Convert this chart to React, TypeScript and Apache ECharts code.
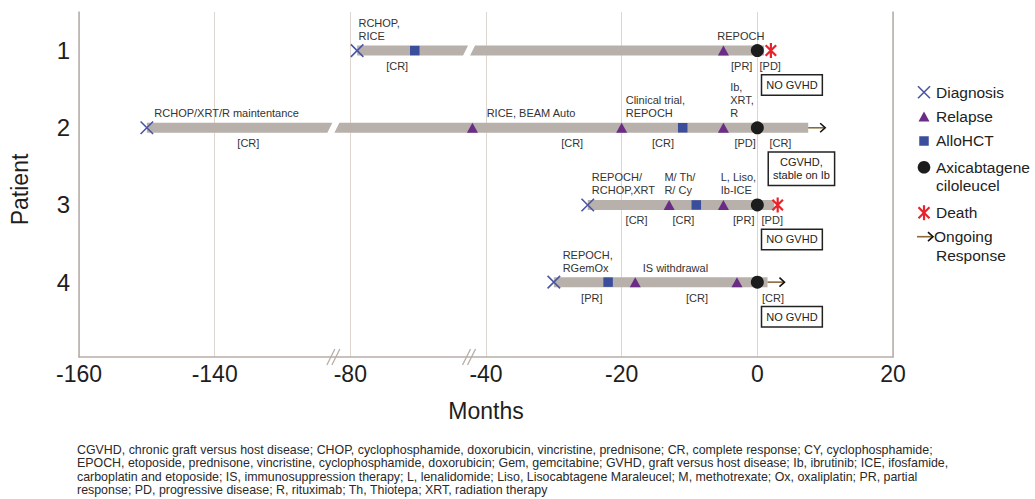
import React, { useEffect, useRef } from "react";
import * as echarts from "echarts";

// ---- axis definition (broken month axis, equally spaced ticks) ----
const tickMonths = [-160, -140, -80, -40, -20, 0, 20];
const tickLabels = ["-160", "-140", "-80", "-40", "-20", "0", "20"];
const axisBreakMonths = [-87.5, -45];
const patients = [1, 2, 3, 4];

// ---- bars (months) ----
const barStart = [-78, -150, -25, -30];
const barEnd = [1, 7.5, 2.5, 1.5];
const barBreak: (number | null)[] = [-45, -87.5, null, null];

// ---- events: [month, patient] ----
const diagnosis = [[-78, 1], [-150, 2], [-25, 3], [-30, 4]];
const relapse = [[-5, 1], [-44, 2], [-20, 2], [-5, 2], [-13, 3], [-5, 3], [-18, 4], [-3, 4]];
const alloHCT = [[-61, 1], [-11, 2], [-9, 3], [-22, 4]];
const axicel = [[0, 1], [0, 2], [0, 3], [0, 4]];
const death = [[2, 1], [3, 3]];
// [start month, tip month, patient]
const ongoing = [[7.5, 10, 2], [1.5, 4, 4]];

// ---- annotations: [month, patient, text] ----
const treatmentLabels: [number, number, string][] = [
  [-77.6, 1, "RCHOP,\nRICE"],
  [-5.9, 1, "REPOCH"],
  [-148.9, 2, "RCHOP/XRT/R maintentance"],
  [-39.9, 2, "RICE, BEAM Auto"],
  [-19.4, 2, "Clinical trial,\nREPOCH"],
  [-4.0, 2, "Ib,\nXRT,\nR"],
  [-24.4, 3, "REPOCH/\nRCHOP,XRT"],
  [-13.7, 3, "M/ Th/\nR/ Cy"],
  [-5.4, 3, "L, Liso,\nIb-ICE"],
  [-28.7, 4, "REPOCH,\nRGemOx"],
  [-16.9, 4, "IS withdrawal"],
];
const responseLabels: [number, number, string][] = [
  [-66.2, 1, "[CR]"], [-2.3, 1, "[PR]"], [1.9, 1, "[PD]"],
  [-125.1, 2, "[CR]"], [-27.3, 2, "[CR]"], [-13.9, 2, "[CR]"], [-1.8, 2, "[PD]"], [3.4, 2, "[CR]"],
  [-17.8, 3, "[CR]"], [-10.9, 3, "[CR]"], [-2.0, 3, "[PR]"], [2.2, 3, "[PD]"],
  [-24.4, 4, "[PR]"], [-8.9, 4, "[CR]"], [2.3, 4, "[CR]"],
];
const gvhdNotes: [number, number, string][] = [
  [5.1, 1, "NO GVHD"],
  [6.5, 2, "CGVHD,\nstable on Ib"],
  [5.1, 3, "NO GVHD"],
  [5.1, 4, "NO GVHD"],
];

const footnoteLines = [
  "CGVHD, chronic graft versus host disease; CHOP, cyclophosphamide, doxorubicin, vincristine, prednisone; CR, complete response; CY, cyclophosphamide;",
  "EPOCH, etoposide, prednisone, vincristine, cyclophosphamide, doxorubicin; Gem, gemcitabine; GVHD, graft versus host disease; Ib, ibrutinib; ICE, ifosfamide,",
  "carboplatin and etoposide; IS, immunosuppression therapy; L, lenalidomide; Liso, Lisocabtagene Maraleucel; M, methotrexate; Ox, oxaliplatin; PR, partial",
  "response; PD, progressive disease; R, rituximab; Th, Thiotepa; XRT, radiation therapy",
];

const FONT = '"Liberation Sans", Arial, Helvetica, sans-serif';
const C_BAR = "#b8b0aa";
const C_AXIS = "#b6ada7";
const C_GRID = "#ded6ce";
const C_DIAG = "#4a56a2";
const C_RELAPSE = "#6a2c84";
const C_ALLO = "#3a4e9c";
const C_AXICEL = "#1c1c1c";
const C_DEATH = "#e8232b";
const C_TEXT = "#333333";
const Y_MIN = 0.5;
const Y_MAX = 4.97;

function toD(m: number): number {
  for (let i = 0; i < tickMonths.length - 1; i++) {
    const a = tickMonths[i];
    const b = tickMonths[i + 1];
    if (m <= b || i === tickMonths.length - 2) {
      return i + (m - a) / (b - a);
    }
  }
  return 0;
}

const X_PATH = "path://M0 0L10 10M10 0L0 10";
const STAR_PATH = "path://M1.5 1.5L8.5 8.5M8.5 1.5L1.5 8.5M5 0L5 10";

export default function App() {
  const ref = useRef<HTMLDivElement>(null);

  useEffect(() => {
    if (!ref.current) return;
    const chart = echarts.init(ref.current, null, { renderer: "svg" });

    const barSeries = {
      type: "custom",
      name: "bars",
      z: 1,
      clip: false,
      encode: { x: [1, 2], y: 0 },
      data: patients.map((p, i) => [
        p,
        toD(barStart[i]),
        toD(barEnd[i]),
        barBreak[i] == null ? -1 : toD(barBreak[i] as number),
      ]),
      renderItem: (params: any, api: any) => {
        const p = api.value(0);
        const x1 = api.coord([api.value(1), p])[0];
        const x2 = api.coord([api.value(2), p])[0];
        const y = api.coord([api.value(1), p])[1];
        const top = y - 5;
        const bot = y + 5;
        const b = api.value(3);
        const style = { fill: C_BAR };
        if (b < 0) {
          return { type: "rect", shape: { x: x1, y: top, width: x2 - x1, height: bot - top }, style };
        }
        const xb = api.coord([b, p])[0];
        const g = 3.5;
        const s = 2.5;
        return {
          type: "group",
          children: [
            { type: "polygon", shape: { points: [[x1, top], [xb - g + s, top], [xb - g - s, bot], [x1, bot]] }, style },
            { type: "polygon", shape: { points: [[xb + g + s, top], [x2, top], [x2, bot], [xb + g - s, bot]] }, style },
          ],
        };
      },
    };

    const breakMarkSeries = {
      type: "custom",
      name: "axis breaks",
      z: 5,
      clip: false,
      encode: { x: 0, y: 1 },
      data: axisBreakMonths.map((m) => [toD(m), Y_MAX]),
      renderItem: (params: any, api: any) => {
        const pt = api.coord([api.value(0), api.value(1)]);
        return {
          type: "group",
          children: [-2.5, 2.5].map((o) => ({
            type: "line",
            shape: { x1: pt[0] + o - 4, y1: pt[1] + 8, x2: pt[0] + o + 4, y2: pt[1] - 8 },
            style: { stroke: C_AXIS, lineWidth: 1.3 },
          })),
        };
      },
    };

    const arrowSeries = {
      type: "custom",
      name: "Ongoing Response",
      z: 3,
      clip: false,
      encode: { x: [0, 1], y: 2 },
      data: ongoing.map((a) => [toD(a[0]), toD(a[1]), a[2]]),
      renderItem: (params: any, api: any) => {
        const p = api.value(2);
        const s = api.coord([api.value(0), p]);
        const t = api.coord([api.value(1), p]);
        return {
          type: "group",
          children: [
            { type: "line", shape: { x1: s[0], y1: s[1], x2: t[0] - 1, y2: t[1] }, style: { stroke: "#8a6a3a", lineWidth: 1.6 } },
            { type: "polyline", shape: { points: [[t[0] - 5, t[1] - 4.5], [t[0], t[1]], [t[0] - 5, t[1] + 4.5]] }, style: { stroke: "#111", lineWidth: 1.6, fill: "none" } },
          ],
        };
      },
    };

    const textSeries = (name: string, items: [number, number, string][], kind: "above" | "below" | "box") => ({
      type: "custom",
      name,
      z: 4,
      clip: false,
      encode: { x: 0, y: 1 },
      data: items.map((it) => [toD(it[0]), it[1]]),
      renderItem: (params: any, api: any) => {
        const it = items[params.dataIndex];
        const pt = api.coord([api.value(0), api.value(1)]);
        const base: any = { text: it[2], fill: C_TEXT, font: `11px ${FONT}`, lineHeight: 13 };
        if (kind === "above") {
          return { type: "text", x: pt[0], y: pt[1] - 8, style: { ...base, align: "left", verticalAlign: "bottom" } };
        }
        if (kind === "below") {
          return { type: "text", x: pt[0], y: pt[1] + 9, style: { ...base, align: "center", verticalAlign: "top" } };
        }
        return {
          type: "text",
          x: pt[0],
          y: pt[1] + 25,
          style: {
            ...base,
            fill: "#222",
            align: "center",
            verticalAlign: "top",
            padding: [3, 4, 3, 4],
            borderColor: "#222",
            borderWidth: 1.5,
            backgroundColor: "#fff",
          },
        };
      },
    });

    const toPts = (arr: number[][]) => arr.map((d) => [toD(d[0]), d[1]]);

    // ---- manual legend (layout only) ----
    const LX = 924;
    const TX = 936;
    const legendText = (y: number, text: string) => ({
      type: "text",
      left: TX,
      top: y - 9.35,
      style: { text, font: `15.5px ${FONT}`, fill: "#222", lineHeight: 18.7 },
    });
    const legendGraphics: any[] = [
      {
        type: "group",
        children: [
          { type: "line", shape: { x1: LX - 6, y1: 86.3, x2: LX + 6, y2: 98.3 }, style: { stroke: C_DIAG, lineWidth: 1.6 } },
          { type: "line", shape: { x1: LX + 6, y1: 86.3, x2: LX - 6, y2: 98.3 }, style: { stroke: C_DIAG, lineWidth: 1.6 } },
        ],
      },
      legendText(92.3, "Diagnosis"),
      { type: "polygon", shape: { points: [[LX - 5.5, 121.5], [LX + 5.5, 121.5], [LX, 111.5]] }, style: { fill: C_RELAPSE } },
      legendText(116.7, "Relapse"),
      { type: "rect", shape: { x: LX - 4.75, y: 136.25, width: 9.5, height: 9.5 }, style: { fill: C_ALLO } },
      legendText(141, "AlloHCT"),
      { type: "circle", shape: { cx: LX, cy: 167.3, r: 6.3 }, style: { fill: C_AXICEL } },
      legendText(167.3, "Axicabtagene\nciloleucel"),
      {
        type: "group",
        children: [
          { type: "line", shape: { x1: LX - 5.5, y1: 207.2, x2: LX + 5.5, y2: 218.2 }, style: { stroke: C_DEATH, lineWidth: 2.2 } },
          { type: "line", shape: { x1: LX + 5.5, y1: 207.2, x2: LX - 5.5, y2: 218.2 }, style: { stroke: C_DEATH, lineWidth: 2.2 } },
          { type: "line", shape: { x1: LX, y1: 205.2, x2: LX, y2: 220.2 }, style: { stroke: C_DEATH, lineWidth: 2.2 } },
        ],
      },
      legendText(212.7, "Death"),
      {
        type: "group",
        children: [
          { type: "line", shape: { x1: LX - 7, y1: 236.7, x2: LX + 8, y2: 236.7 }, style: { stroke: "#8a6a3a", lineWidth: 1.6 } },
          { type: "polyline", shape: { points: [[LX + 4, 232.2], [LX + 9, 236.7], [LX + 4, 241.2]] }, style: { stroke: "#111", lineWidth: 1.6, fill: "none" } },
        ],
      },
      { type: "text", left: LX + 10, top: 236.7 - 9.35, style: { text: "Ongoing", font: `15.5px ${FONT}`, fill: "#222", lineHeight: 18.7 } },
      legendText(255.4, "Response"),
    ];

    const option: any = {
      animation: false,
      grid: { left: 79, right: 142, top: 12, bottom: 142, containLabel: false },
      xAxis: {
        type: "value",
        min: 0,
        max: tickLabels.length - 1,
        interval: 1,
        axisLine: { show: true, lineStyle: { color: C_AXIS, width: 1.5 } },
        axisTick: { show: false },
        splitLine: { show: true, lineStyle: { color: C_GRID, width: 1 } },
        axisLabel: {
          formatter: (v: number) => tickLabels[Math.round(v)] ?? "",
          fontSize: 23,
          fontFamily: FONT,
          color: "#1e1e1e",
          margin: 5,
        },
        name: "Months",
        nameLocation: "middle",
        nameGap: 42,
        nameTextStyle: { fontSize: 23, fontFamily: FONT, color: "#1e1e1e" },
      },
      yAxis: [
        {
          type: "value",
          inverse: true,
          min: Y_MIN,
          max: Y_MAX,
          interval: 0.5,
          axisLine: { show: true, lineStyle: { color: C_AXIS, width: 1.5 } },
          axisTick: { show: false },
          splitLine: { show: false },
          axisLabel: {
            formatter: (v: number) => (Number.isInteger(v) && patients.includes(v) ? String(v) : ""),
            fontSize: 24,
            fontFamily: FONT,
            color: "#1e1e1e",
            margin: 9,
          },
          name: "Patient",
          nameLocation: "middle",
          nameGap: 48,
          nameRotate: 90,
          nameTextStyle: { fontSize: 23, fontFamily: FONT, color: "#1e1e1e", padding: [0, 10, 0, 0] },
        },
        {
          type: "value",
          position: "right",
          inverse: true,
          min: Y_MIN,
          max: Y_MAX,
          interval: 0.5,
          axisLine: { show: true, lineStyle: { color: C_AXIS, width: 1.5 } },
          axisTick: { show: false },
          axisLabel: { show: false },
          splitLine: { show: false },
        },
      ],
      series: [
        barSeries,
        breakMarkSeries,
        {
          type: "scatter",
          name: "Diagnosis",
          z: 3,
          symbol: X_PATH,
          symbolSize: 12.5,
          itemStyle: { color: "rgba(0,0,0,0)", borderColor: C_DIAG, borderWidth: 1.6, opacity: 1 },
          data: toPts(diagnosis),
        },
        {
          type: "scatter",
          name: "Relapse",
          z: 3,
          symbol: "triangle",
          symbolSize: [11, 10],
          itemStyle: { color: C_RELAPSE, opacity: 1 },
          data: toPts(relapse),
        },
        {
          type: "scatter",
          name: "AlloHCT",
          z: 3,
          symbol: "rect",
          symbolSize: 9.5,
          itemStyle: { color: C_ALLO, opacity: 1 },
          data: toPts(alloHCT),
        },
        {
          type: "scatter",
          name: "Axicabtagene ciloleucel",
          z: 3,
          symbol: "circle",
          symbolSize: 13,
          itemStyle: { color: C_AXICEL, opacity: 1 },
          data: toPts(axicel),
        },
        {
          type: "scatter",
          name: "Death",
          z: 3,
          symbol: STAR_PATH,
          symbolSize: 15,
          symbolKeepAspect: true,
          itemStyle: { color: "rgba(0,0,0,0)", borderColor: C_DEATH, borderWidth: 2.2, opacity: 1 },
          data: toPts(death),
        },
        arrowSeries,
        textSeries("treatments", treatmentLabels, "above"),
        textSeries("responses", responseLabels, "below"),
        textSeries("gvhd", gvhdNotes, "box"),
      ],
      graphic: [
        ...legendGraphics,
        {
          type: "text",
          left: 77,
          top: 443.3,
          style: { text: footnoteLines.join("\n"), font: `12.4px ${FONT}`, fill: "#2a2a2a", lineHeight: 13.4 },
        },
      ],
    };

    chart.setOption(option);
    return () => chart.dispose();
  }, []);

  return (
    <div
      ref={ref}
      style={{ position: "fixed", left: 0, top: 0, width: 1035, height: 499, background: "#fff" }}
    />
  );
}
